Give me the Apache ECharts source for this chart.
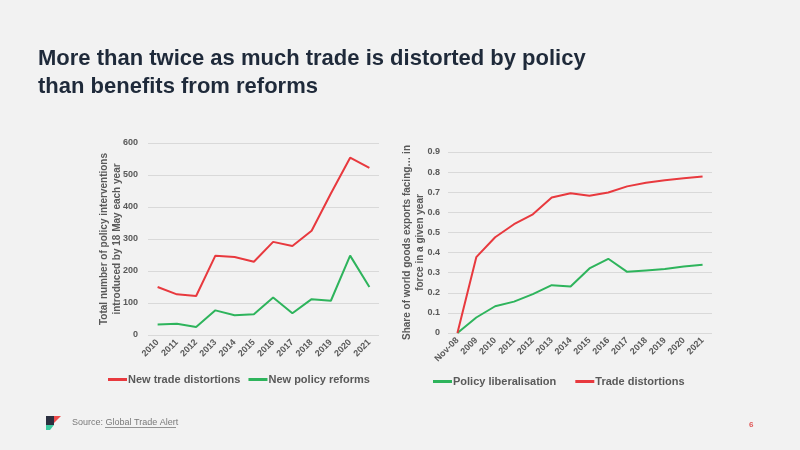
<!DOCTYPE html>
<html><head><meta charset="utf-8">
<style>html,body{margin:0;padding:0;background:#f2f2f2;}#c{width:800px;height:450px;}</style>
<script src="https://cdn.jsdelivr.net/npm/echarts@6/dist/echarts.min.js"></script>
</head><body><div id="c"></div>
<script>
var leftYears = ['2010','2011','2012','2013','2014','2015','2016','2017','2018','2019','2020','2021'];
var newTradeDistortions = [150,127,122,248,244,229,291,278,326,442,554,522];
var newPolicyReforms = [33,35,25,77,62,65,117,68,112,107,248,150];
var rightYears = ['Nov-08','2009','2010','2011','2012','2013','2014','2015','2016','2017','2018','2019','2020','2021'];
var policyLiberalisation = [0,0.077,0.133,0.156,0.193,0.238,0.231,0.321,0.369,0.304,0.311,0.318,0.331,0.339];
var tradeDistortions = [0,0.377,0.476,0.541,0.590,0.674,0.695,0.682,0.699,0.729,0.747,0.760,0.769,0.778];

var RED = '#e8393e', GREEN = '#2eb45c', GRAY = '#595959', FONT = 'Liberation Sans, Arial, sans-serif';
var chart = echarts.init(document.getElementById('c'));
function xAx(idx, data) {
  return {type:'category', gridIndex:idx, data:data, boundaryGap:true,
    axisLine:{show:false}, axisTick:{show:false},
    axisLabel:{rotate:45, margin:6, fontSize:9, fontWeight:'bold', color:GRAY, fontFamily:FONT, interval:0}};
}
function yAx(idx, max, interval, name, gap, margin) {
  return {type:'value', gridIndex:idx, min:0, max:max, interval:interval,
    name:name, nameLocation:'middle', nameRotate:90, nameGap:gap, nameMoveOverlap:false,
    nameTextStyle:{fontSize:10, fontWeight:'bold', color:GRAY, fontFamily:FONT, lineHeight:13},
    axisLine:{show:false}, axisTick:{show:false},
    splitLine:{lineStyle:{color:'#d9d9d9', width:1}},
    axisLabel:{fontSize:9, fontWeight:'bold', color:GRAY, fontFamily:FONT, margin:margin,
      formatter:function(v){return (Math.round(v*10)/10).toString();}}};
}
chart.setOption({
  backgroundColor:'#f2f2f2',
  animation:false,
  grid:[{left:148, right:421, top:143, bottom:115},{left:448, right:88, top:152, bottom:117}],
  xAxis:[xAx(0,leftYears), xAx(1,rightYears)],
  yAxis:[yAx(0,600,100,'Total number of policy interventions\nintroduced by 18 May each year',24,10),
         yAx(1,0.9,0.1,'Share of world goods exports facing… in\nforce in a given year',21,8)],
  legend:[
    {data:['New trade distortions','New policy reforms'], left:103, top:369, icon:'rect', itemWidth:19, itemHeight:3, itemGap:8,
     textStyle:{fontSize:11, fontWeight:'bold', color:GRAY, fontFamily:FONT, padding:[0,0,0,-4]}},
    {data:['Policy liberalisation','Trade distortions'], left:428, top:371, icon:'rect', itemWidth:19, itemHeight:3, itemGap:19,
     textStyle:{fontSize:11, fontWeight:'bold', color:GRAY, fontFamily:FONT, padding:[0,0,0,-4]}}
  ],
  series:[
    {name:'New trade distortions', type:'line', xAxisIndex:0, yAxisIndex:0, data:newTradeDistortions, symbol:'none', lineStyle:{color:RED,width:2}, itemStyle:{color:RED}},
    {name:'New policy reforms', type:'line', xAxisIndex:0, yAxisIndex:0, data:newPolicyReforms, symbol:'none', lineStyle:{color:GREEN,width:2}, itemStyle:{color:GREEN}},
    {name:'Policy liberalisation', type:'line', xAxisIndex:1, yAxisIndex:1, data:policyLiberalisation, symbol:'none', lineStyle:{color:GREEN,width:2}, itemStyle:{color:GREEN}},
    {name:'Trade distortions', type:'line', xAxisIndex:1, yAxisIndex:1, data:tradeDistortions, symbol:'none', lineStyle:{color:RED,width:2}, itemStyle:{color:RED}}
  ],
  graphic:[
    {type:'text', left:38, top:45, style:{text:'More than twice as much trade is distorted by policy\nthan benefits from reforms', fill:'#1f2a3a', font:'bold 22px '+FONT, lineHeight:28}},
    {type:'polygon', shape:{points:[[46,416],[54,416],[54,425],[46,425]]}, style:{fill:'#2b3040'}},
    {type:'polygon', shape:{points:[[54,416],[61,416],[54,423]]}, style:{fill:'#ee4b4b'}},
    {type:'polygon', shape:{points:[[46,425],[54,425],[50,430],[46,430]]}, style:{fill:'#3cc9a0'}},
    {type:'text', left:72, top:418, style:{text:'Source: Global Trade Alert', fill:'#7a7a7a', font:'9px '+FONT}},
    {type:'line', shape:{x1:105, y1:427.5, x2:176, y2:427.5}, style:{stroke:'#7a7a7a', lineWidth:0.8}},
    {type:'text', left:749, top:421, style:{text:'6', fill:'#e05858', font:'bold 8px '+FONT}}
  ]
});
</script></body></html>
